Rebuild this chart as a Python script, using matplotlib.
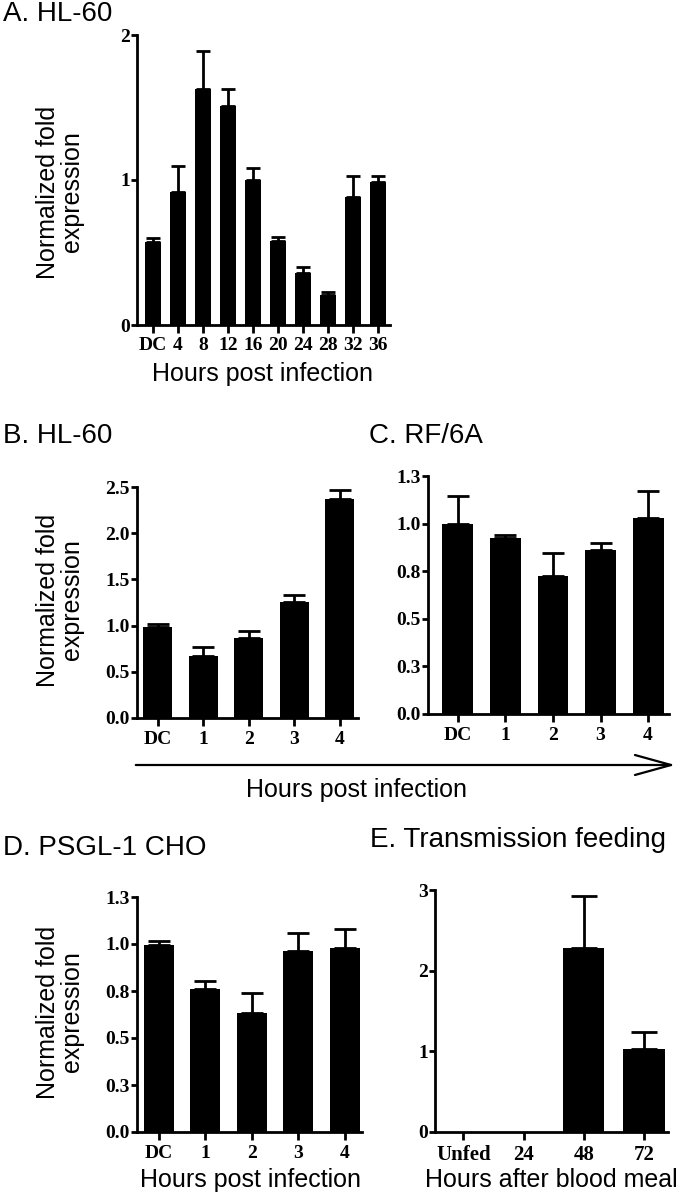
import matplotlib
matplotlib.use('Agg')
import matplotlib.pyplot as plt
import numpy as np
from matplotlib.patches import FancyArrowPatch

# Relative expression, bars = mean, upper error bar only
a_labels = ['DC', '4', '8', '12', '16', '20', '24', '28', '32', '36']
a_mean = [0.57, 0.92, 1.63, 1.51, 1.00, 0.58, 0.36, 0.205, 0.88, 0.985]
a_err = [0.03, 0.18, 0.26, 0.12, 0.085, 0.027, 0.04, 0.025, 0.145, 0.04]

b_labels = ['DC', '1', '2', '3', '4']
b_mean = [0.99, 0.667, 0.862, 1.26, 2.374]
b_err = [0.03, 0.10, 0.08, 0.075, 0.09]

c_labels = ['DC', '1', '2', '3', '4']
c_mean = [0.996, 0.925, 0.723, 0.86, 1.028]
c_err = [0.15, 0.017, 0.12, 0.04, 0.145]

d_labels = ['DC', '1', '2', '3', '4']
d_mean = [0.993, 0.759, 0.631, 0.961, 0.979]
d_err = [0.021, 0.045, 0.11, 0.098, 0.10]

e_labels = ['Unfed', '24', '48', '72']
e_mean = [0, 0, 2.28, 1.03]
e_err = [0, 0, 0.64, 0.205]

a_yticks, a_ylabels = [0, 1, 2], ['0', '1', '2']
b_yticks = [0, 0.5, 1.0, 1.5, 2.0, 2.5]
b_ylabels = ['0.0', '0.5', '1.0', '1.5', '2.0', '2.5']
quarter_ticks = [0, 0.25, 0.5, 0.75, 1.0, 1.25]
quarter_labels = ['0.0', '0.3', '0.5', '0.8', '1.0', '1.3']
e_yticks, e_ylabels = [0, 1, 2, 3], ['0', '1', '2', '3']

W, H = 680, 1201
fig = plt.figure(figsize=(W / 100, H / 100), dpi=100)

sans = 'Liberation Sans'
serif = 'Liberation Serif'


def px_axes(l, t, r, b):
    return fig.add_axes([l / W, 1 - b / H, (r - l) / W, (b - t) / H])


def bar_panel(ax, labels, mean, err, yt, ytl, width, cap, xlim, ylim, xfs, yfs):
    x = np.arange(len(labels))
    ax.bar(x, mean, width=width, color='black', zorder=2)
    m = np.array(err) > 0
    ax.errorbar(x[m], np.array(mean)[m], yerr=[np.zeros(m.sum()), np.array(err)[m]],
                fmt='none', ecolor='black', elinewidth=2, capsize=cap, capthick=2,
                zorder=3)
    ax.set_xlim(*xlim)
    ax.set_ylim(*ylim)
    ax.set_xticks(x, labels, fontfamily=serif, fontweight='bold', fontsize=xfs)
    ax.set_yticks(yt, ytl, fontfamily=serif, fontweight='bold', fontsize=yfs)
    for s in ['top', 'right']:
        ax.spines[s].set_visible(False)
    for s in ['left', 'bottom']:
        ax.spines[s].set_linewidth(2)
    ax.tick_params(axis='x', length=6, width=2, pad=3)
    ax.tick_params(axis='y', length=4, width=2, pad=1)


def ylab(x, y):
    fig.text(x / W, 1 - y / H, 'Normalized fold\nexpression', rotation=90,
             ha='center', va='center', fontfamily=sans, fontsize=18,
             linespacing=1.0)


# A
axA = px_axes(137, 35, 390, 325)
bar_panel(axA, a_labels, a_mean, a_err, a_yticks, a_ylabels, 0.63, 5,
          (-0.63, 9.47), (0, 2), 14, 14)
fig.text(3 / W, 1 - 21 / H, 'A. HL-60', fontfamily=sans, fontsize=20)
ylab(60, 192)
fig.text(263 / W, 1 - 374 / H, 'Hours post infection', ha='center', va='center',
         fontfamily=sans, fontsize=18)

# B
axB = px_axes(137, 487, 358, 718)
bar_panel(axB, b_labels, b_mean, b_err, b_yticks, b_ylabels, 0.64, 8,
          (-0.46, 4.4), (0, 2.5), 14, 14)
fig.text(3 / W, 1 - 443 / H, 'B. HL-60', fontfamily=sans, fontsize=20)
ylab(60, 600)

# C
axC = px_axes(428, 476, 669, 714)
bar_panel(axC, c_labels, c_mean, c_err, quarter_ticks, quarter_labels, 0.65, 8,
          (-0.63, 4.44), (0, 1.25), 14, 14)
fig.text(369 / W, 1 - 443 / H, 'C. RF/6A', fontfamily=sans, fontsize=20)

# shared arrow for B and C
fig.add_artist(FancyArrowPatch((133 / W, 1 - 765 / H), (678 / W, 1 - 765 / H),
                               transform=fig.transFigure,
                               arrowstyle='->,head_length=1.3,head_width=0.36',
                               mutation_scale=20, lw=1.6, color='black'))
fig.text(357 / W, 1 - 790 / H, 'Hours post infection', ha='center', va='center',
         fontfamily=sans, fontsize=18)

# D
axD = px_axes(137, 897, 362, 1132)
bar_panel(axD, d_labels, d_mean, d_err, quarter_ticks, quarter_labels, 0.65, 8,
          (-0.47, 4.37), (0, 1.25), 14, 14)
fig.text(3 / W, 1 - 855 / H, 'D. PSGL-1 CHO', fontfamily=sans, fontsize=20)
ylab(60, 1012)
fig.text(250 / W, 1 - 1180 / H, 'Hours post infection', ha='center', va='center',
         fontfamily=sans, fontsize=18)

# E
axE = px_axes(435, 890, 668, 1132)
bar_panel(axE, e_labels, e_mean, e_err, e_yticks, e_ylabels, 0.69, 9.5,
          (-0.47, 3.4), (0, 3), 15, 14)
fig.text(370 / W, 1 - 847 / H, 'E. Transmission feeding', fontfamily=sans, fontsize=20)
fig.text(551 / W, 1 - 1180 / H, 'Hours after blood meal', ha='center', va='center',
         fontfamily=sans, fontsize=18)

fig.savefig('out.png', dpi=100)
